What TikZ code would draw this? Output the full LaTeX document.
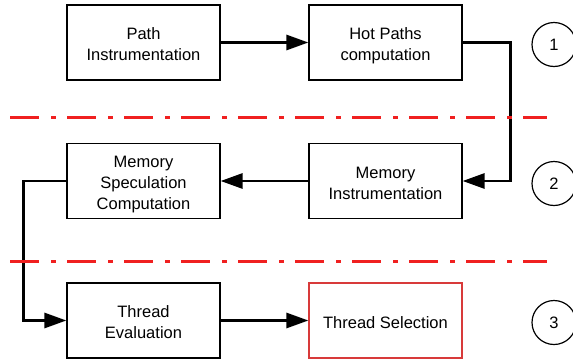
\documentclass[tikz,border=0pt]{standalone}
\usepackage{fontspec}
\setmainfont{Liberation Sans}
\usetikzlibrary{arrows.meta}
\definecolor{sepred}{HTML}{F02020}
\definecolor{boxred}{HTML}{D83A3A}
\newcommand\steptext[1]{\raisebox{0pt}[\dimexpr\height+7pt\relax][\depth]{\begin{tabular}{@{}c@{}}#1\end{tabular}}}
\begin{document}
\begin{tikzpicture}[x=1pt,y=-1pt,
  stepbox/.style={draw, line width=1.2pt, minimum width=153pt, minimum height=75pt,
    inner sep=0pt, font=\fontsize{16.5}{21}\selectfont},
  phase/.style={draw, circle, line width=1.2pt, minimum size=44pt, inner sep=0pt,
    font=\fontsize{16.5}{20}\selectfont},
  conn/.style={line width=2.8pt, -{Triangle[length=22pt,width=15pt]}},
  sepline/.style={draw=sepred, line width=3pt, dash pattern=on 29pt off 12pt on 5pt off 11pt}]
\useasboundingbox (0,0) rectangle (573,362);
\node[stepbox] (pi) at (143.5,42.5) {\steptext{Path\\Instrumentation}};
\node[stepbox] (hp) at (385.5,42.5) {\steptext{Hot Paths\\computation}};
\node[stepbox] (ms) at (143.5,181) {\steptext{Memory\\Speculation\\Computation}};
\node[stepbox] (mi) at (385.5,181) {\steptext{Memory\\Instrumentation}};
\node[stepbox] (te) at (143.5,320.5) {\steptext{Thread\\Evaluation}};
\node[stepbox, draw=boxred] (ts) at (385.5,320.5) {\steptext{Thread Selection}};
\node[phase] (p1) at (554,44.5) {1};
\node[phase] (p2) at (554,183.5) {2};
\node[phase] (p3) at (554,322.5) {3};
\draw[conn] (pi) -- (hp);
\draw[conn] (hp.east) -- ++(48,0) |- (mi.east);
\draw[conn] (mi) -- (ms);
\draw[conn] (ms.west) -- ++(-43,0) |- (te.west);
\draw[conn] (te) -- (ts);
\draw[sepline] (10,117.5) -- (547,117.5);
\draw[sepline] (10,261) -- (547,261);
\end{tikzpicture}
\end{document}
